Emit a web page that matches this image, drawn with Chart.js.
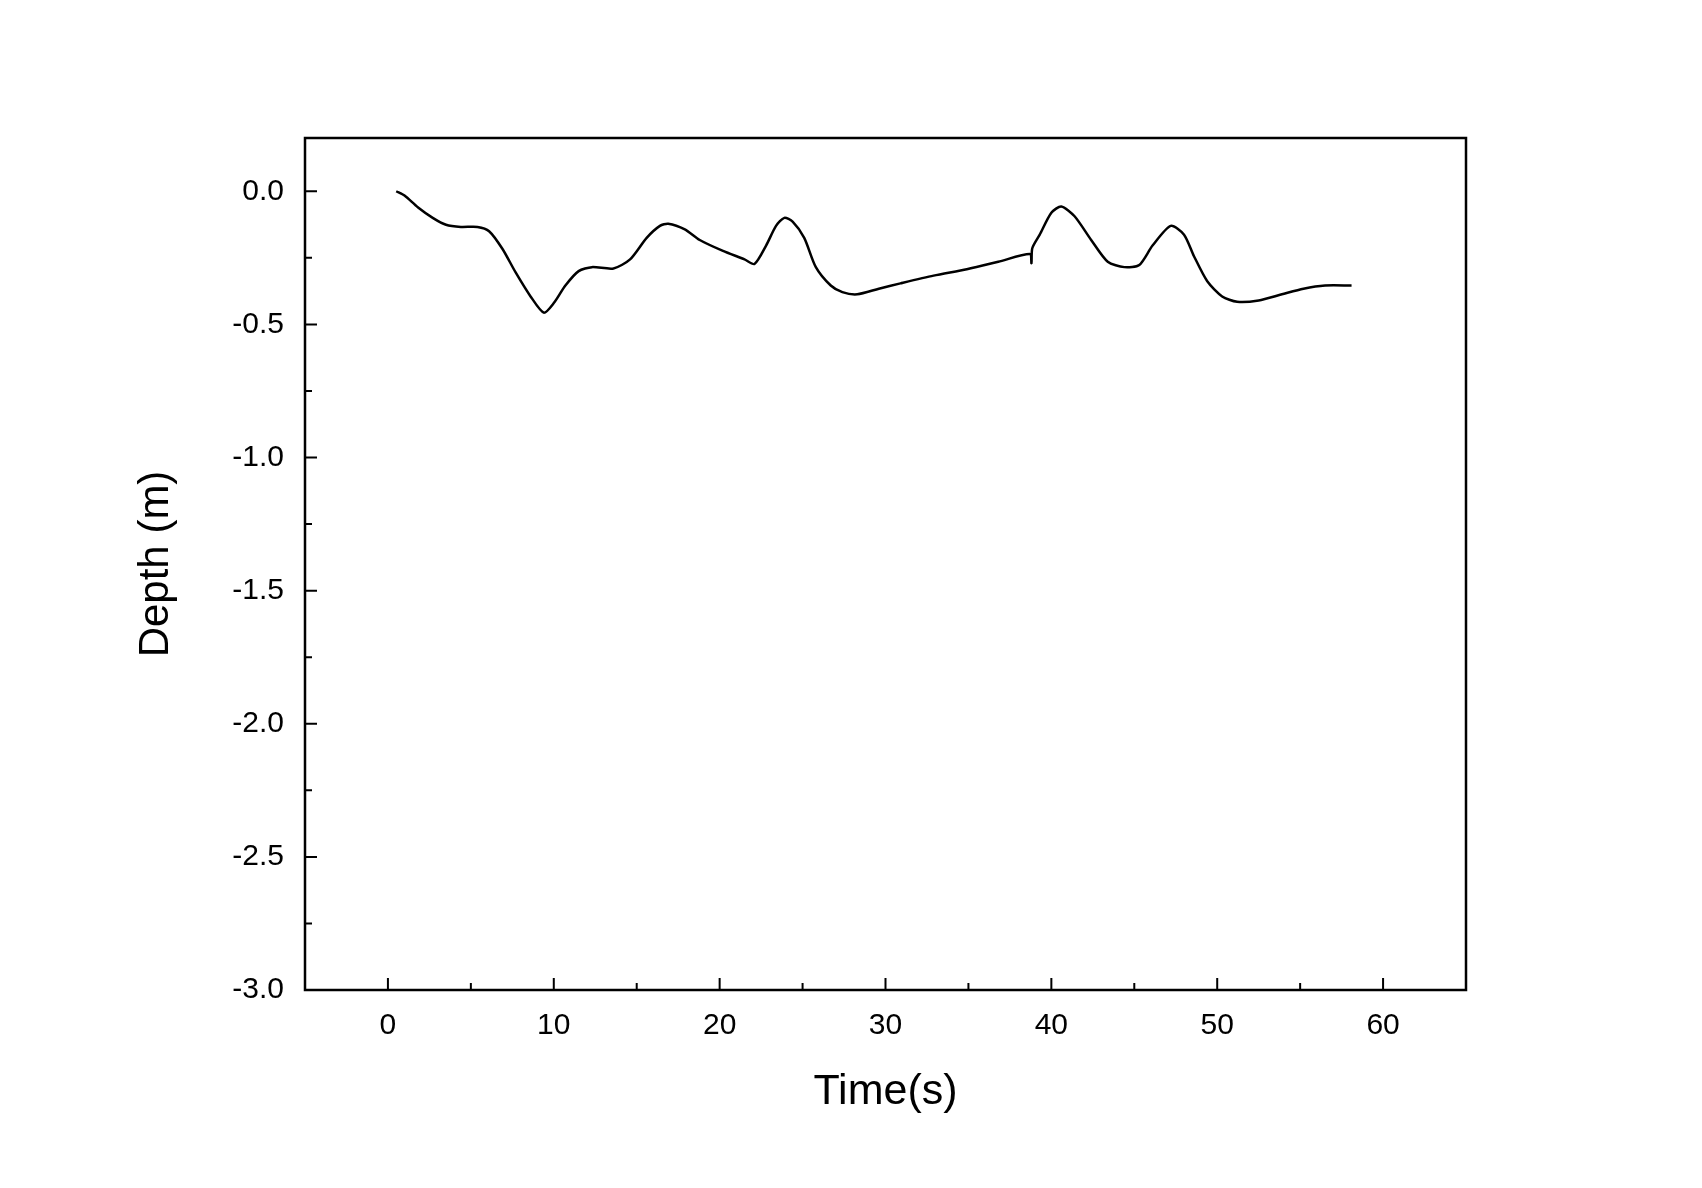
<!DOCTYPE html>
<html>
<head>
<meta charset="utf-8">
<script src="https://cdn.jsdelivr.net/npm/chart.js@4"></script>
<style>
  html, body { margin: 0; padding: 0; background: #fff; }
  #wrap { width: 1702px; height: 1188px; }
</style>
</head>
<body>
<div id="wrap"><canvas id="depthChart"></canvas></div>
<script>
// time (s) and depth (m)
const times = [0.5, 1.0, 1.8, 2.7, 3.5, 4.4, 5.4, 6.1, 6.9, 7.7, 8.6, 9.4, 10.0, 10.7, 11.5, 12.3,
    13.6, 14.6, 15.6, 16.4, 16.9, 17.9, 18.8, 20.2, 21.5, 22.1, 22.8, 23.4, 23.9, 24.4, 25.1,
    25.8, 26.7, 27.4, 28.3, 29.6, 30.9, 32.9, 34.9, 36.8, 38.7, 38.8, 38.85, 39.3, 40.0, 40.6,
    41.4, 42.4, 43.4, 44.4, 45.3, 46.1, 47.2, 48.0, 48.6, 49.4, 50.3, 51.2, 52.5, 53.9, 55.2,
    56.5, 58.1];
const depths = [0.0, -0.016, -0.06, -0.10, -0.126, -0.134, -0.134, -0.15, -0.216, -0.305, -0.395,
    -0.456, -0.42, -0.354, -0.30, -0.285, -0.29, -0.256, -0.175, -0.13, -0.122, -0.143, -0.183,
    -0.224, -0.256, -0.273, -0.204, -0.13, -0.10, -0.114, -0.175, -0.285, -0.354, -0.379, -0.387,
    -0.366, -0.346, -0.317, -0.293, -0.265, -0.236, -0.27, -0.214, -0.163, -0.081, -0.057,
    -0.094, -0.183, -0.265, -0.285, -0.277, -0.204, -0.13, -0.163, -0.244, -0.338, -0.395,
    -0.415, -0.41, -0.387, -0.366, -0.354, -0.354];

const xTicks = [0, 10, 20, 30, 40, 50, 60];
const xMinor = [5, 15, 25, 35, 45, 55];
const yTicks = [0, -0.5, -1.0, -1.5, -2.0, -2.5, -3.0];
const yMinor = [-0.25, -0.75, -1.25, -1.75, -2.25, -2.75];

const points = times.map((t, i) => ({ x: t, y: depths[i] }));

// frame and inward ticks, Origin style
const frameTicks = {
    id: 'frameTicks',
    afterDraw(chart) {
        const { ctx, chartArea: a, scales } = chart;
        const x = scales.x, y = scales.y;
        ctx.save();
        ctx.strokeStyle = '#000';
        ctx.lineWidth = 2;
        ctx.beginPath();
        xTicks.forEach(v => { const px = x.getPixelForValue(v); ctx.moveTo(px, a.bottom); ctx.lineTo(px, a.bottom - 12); });
        xMinor.forEach(v => { const px = x.getPixelForValue(v); ctx.moveTo(px, a.bottom); ctx.lineTo(px, a.bottom - 7); });
        yTicks.forEach(v => { const py = y.getPixelForValue(v); ctx.moveTo(a.left, py); ctx.lineTo(a.left + 12, py); });
        yMinor.forEach(v => { const py = y.getPixelForValue(v); ctx.moveTo(a.left, py); ctx.lineTo(a.left + 7, py); });
        ctx.stroke();
        ctx.lineWidth = 2.5;
        ctx.strokeRect(a.left, a.top, a.right - a.left, a.bottom - a.top);
        ctx.restore();
    }
};

const config = {
    type: 'line',
    data: {
        datasets: [{
            data: points,
            borderColor: '#000',
            borderWidth: 2.5,
            pointRadius: 0,
            tension: 0.25,
            fill: false
        }]
    },
    options: {
        responsive: true,
        maintainAspectRatio: false,
        animation: false,
        layout: { padding: { left: 0, right: 236, top: 138, bottom: 0 } },
        plugins: { legend: { display: false }, tooltip: { enabled: false } },
        scales: {
            x: {
                type: 'linear',
                min: -5,
                max: 65,
                afterBuildTicks: s => { s.ticks = xTicks.map(v => ({ value: v })); },
                afterFit: s => { s.height = 198; },
                grid: { display: false },
                border: { display: false },
                ticks: {
                    padding: 10,
                    color: '#000',
                    font: { family: 'Liberation Sans', size: 30 }
                },
                title: {
                    display: true,
                    text: 'Time(s)',
                    color: '#000',
                    padding: 70,
                    font: { family: 'Liberation Sans', size: 43 }
                }
            },
            y: {
                min: -3.0,
                max: 0.2,
                afterBuildTicks: s => { s.ticks = yTicks.map(v => ({ value: v })); },
                afterFit: s => { s.width = 305; },
                grid: { display: false },
                border: { display: false },
                ticks: {
                    padding: 13,
                    color: '#000',
                    font: { family: 'Liberation Sans', size: 30 },
                    callback: v => v.toFixed(1)
                },
                title: {
                    display: true,
                    text: 'Depth (m)',
                    color: '#000',
                    padding: 131,
                    font: { family: 'Liberation Sans', size: 42 }
                }
            }
        }
    },
    plugins: [frameTicks]
};

const depthChart = new Chart(document.getElementById('depthChart'), config);
</script>
</body>
</html>
